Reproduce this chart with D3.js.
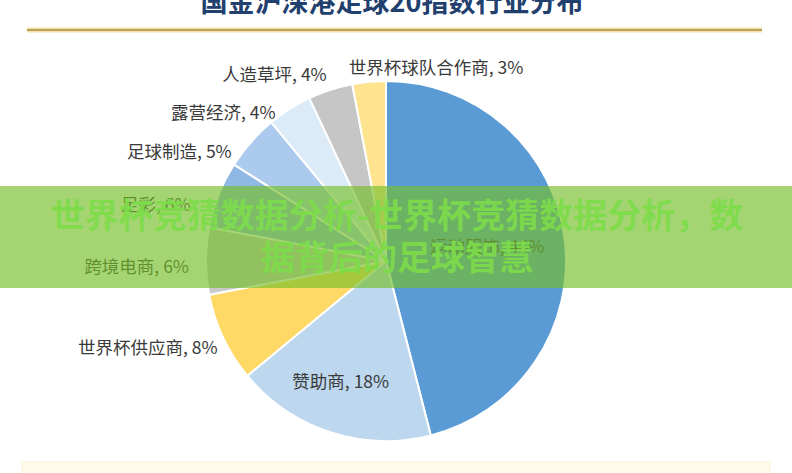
<!DOCTYPE html>
<html>
<head>
<meta charset="utf-8">
<script src="https://cdn.jsdelivr.net/npm/d3@7/dist/d3.min.js"></script>
<style>
  body { margin: 0; background: #fff; }
  svg { display: block; }
</style>
</head>
<body>
<script>
// 行业分布 (顺时针, 从12点方向开始)
const industries = ["运动服饰", "赞助商", "世界杯供应商", "跨境电商", "足彩", "足球制造", "露营经济", "人造草坪", "世界杯球队合作商"];
const shares = [46, 18, 8, 6, 6, 5, 4, 4, 3];

const title = "国金沪深港足球20指数行业分布";
const bannerLines = ["世界杯竞猜数据分析-世界杯竞猜数据分析，数", "据背后的足球智慧"];

const colors = ["#5b9bd5", "#bdd7ee", "#ffd966", "#c9c9c9", "#8fb8e4", "#abcaed", "#dcebf8", "#c6c6c6", "#ffe48f"];
// label placement: radius of the anchor (inside labels) and small nudges
const labelInside = [true, true, false, false, false, false, false, false, false];
const insideRadius = [100, 127];
const labelNudge = [[2, -2], [-6, 0], [8, 4], [-2, 6], [-14, 16], [-8, 20], [-6, 17], [1, -1], [-19, 1]];

const W = 792, H = 473;
const cx = 386, cy = 261, r = 180;

const svg = d3.select("body").append("svg")
    .attr("width", W)
    .attr("height", H);

// title (cut off at the top in the original)
svg.append("text")
    .attr("x", 392)
    .attr("y", 12)
    .attr("text-anchor", "middle")
    .style("font-family", "'Noto Sans CJK SC', sans-serif")
    .style("font-size", "27px")
    .style("font-weight", "bold")
    .style("fill", "#22406e")
    .text(title);

// gold rule under the title
svg.append("line")
    .attr("x1", 27).attr("x2", 762)
    .attr("y1", 30).attr("y2", 30)
    .attr("stroke", "#f3e2a8")
    .attr("stroke-width", 5);
svg.append("line")
    .attr("x1", 27).attr("x2", 762)
    .attr("y1", 30).attr("y2", 30)
    .attr("stroke", "#b9a15a")
    .attr("stroke-width", 2);

// faint cream box at the bottom
svg.append("rect")
    .attr("x", 22).attr("y", 462)
    .attr("width", 748).attr("height", 20)
    .attr("fill", "#fffaea")
    .attr("stroke", "#fbf1d6");

const pie = d3.pie().sort(null).value(d => d);
const arcs = pie(shares);

const arc = d3.arc().innerRadius(0).outerRadius(r);

const g = svg.append("g")
    .attr("transform", "translate(" + cx + "," + cy + ")");

g.selectAll("path")
    .data(arcs)
    .join("path")
    .attr("d", arc)
    .attr("fill", (d, i) => colors[i])
    .attr("stroke", "#fff")
    .attr("stroke-width", 2);

// labels
const outR = r + 15;

g.selectAll("text.lbl")
    .data(arcs)
    .join("text")
    .attr("class", "lbl")
    .each(function (d, i) {
        const mid = (d.startAngle + d.endAngle) / 2;
        let x, y, anchor;
        if (labelInside[i]) {
            [x, y] = d3.arc().innerRadius(insideRadius[i]).outerRadius(insideRadius[i]).centroid(d);
            anchor = "middle";
        } else {
            x = outR * Math.sin(mid);
            y = -outR * Math.cos(mid);
            anchor = i === industries.length - 1 ? "start" : (Math.sin(mid) < 0 ? "end" : "start");
        }
        d3.select(this)
            .attr("x", x + labelNudge[i][0])
            .attr("y", y + labelNudge[i][1])
            .attr("dy", "0.35em")
            .attr("text-anchor", anchor);
    })
    .style("font-family", "'Noto Sans CJK SC', sans-serif")
    .style("font-size", "17.5px")
    .style("fill", "#3a3a3a")
    .text((d, i) => industries[i] + ", " + shares[i] + "%");

// green watermark banner across the middle
svg.append("rect")
    .attr("x", 0).attr("y", 186)
    .attr("width", W).attr("height", 102)
    .attr("fill", "rgb(117,191,40)")
    .attr("fill-opacity", 0.65);

svg.selectAll("text.banner")
    .data(bannerLines)
    .join("text")
    .attr("class", "banner")
    .attr("x", 397)
    .attr("y", (d, i) => 216 + i * 42)
    .attr("dy", "0.35em")
    .attr("text-anchor", "middle")
    .style("font-family", "'Noto Sans CJK SC', sans-serif")
    .style("font-size", "34px")
    .style("font-weight", "bold")
    .style("fill", "#7ddc4a")
    .style("fill-opacity", 0.92)
    .text(d => d);
</script>
</body>
</html>
